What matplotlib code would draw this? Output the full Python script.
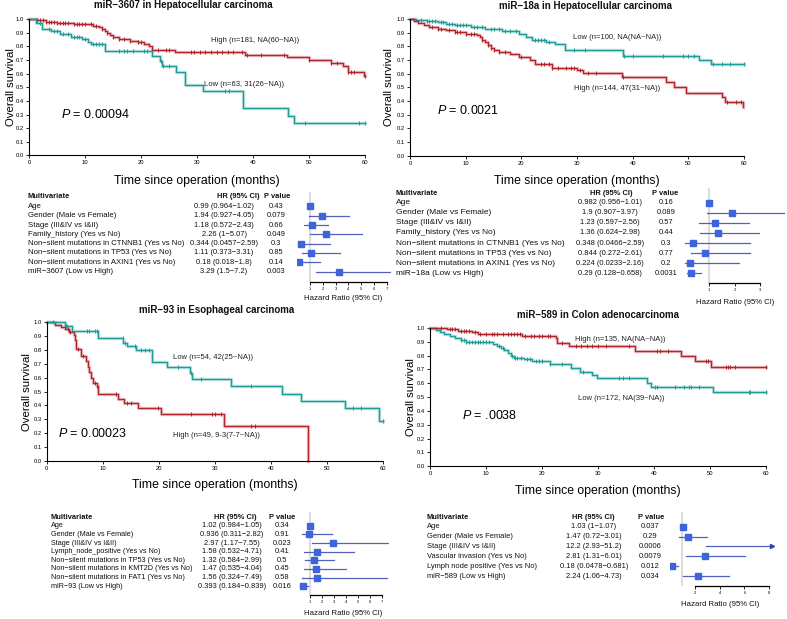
import numpy as np
import matplotlib.pyplot as plt

plt.rcParams['font.family'] = ['Liberation Sans', 'DejaVu Sans']
plt.rcParams['mathtext.fontset'] = 'custom'
plt.rcParams['mathtext.it'] = 'Liberation Sans:italic'
plt.rcParams['mathtext.rm'] = 'Liberation Sans'

W, H = 787, 619
RED = '#B2242B'
TEAL = '#1E9C98'
SQ = '#3D64DB'
CI = '#3445B0'

# ---- KM data ----
# panel A: miR-3607, hepatocellular
a_high_t = [0, 1.5, 3, 5, 8, 11.5, 12.5, 13, 13.5, 14, 14.5, 15, 16, 18, 19.5, 20.5, 21.5, 22, 26, 38.5, 46, 50, 54, 56, 57, 59.8]
a_high_s = [1, .99, .98, .97, .96, .95, .94, .93, .91, .90, .88, .87, .85, .84, .83, .82, .80, .77, .755, .735, .72, .70, .68, .655, .61, .585]
a_high_c = [1.5, 2, 2.5, 3, 3.5, 4, 4.5, 5, 5.5, 6, 6.5, 7, 8, 8.5, 9, 9.5, 10, 11, 12, 13, 14, 15, 16, 17, 18,
            19.5, 20, 23, 24.5, 25, 29, 29.5, 30.5, 31.5, 32.5, 33.5, 34.5, 35.5, 36.5, 38, 39, 41.5, 45.5, 50,
            54, 55, 57, 57.5, 58, 60]
a_low_t = [0, 1.2, 2.3, 4, 5.5, 7.5, 9.5, 10.5, 11, 13.6, 21.9, 23.4, 23.8, 26.2, 27.8, 31, 38.3, 46.2, 47.4]
a_low_s = [1, .97, .93, .91, .89, .87, .85, .83, .815, .765, .73, .69, .655, .61, .515, .47, .35, .29, .235]
a_low_c = [2, 3.5, 4.5, 5, 6, 7, 8, 8.5, 9, 10, 11.5, 12, 12.5, 13, 16, 17, 17.5, 18.5, 20.5, 21, 23.5, 24, 25,
           35, 35.8, 49.2, 59, 60]

# panel B: miR-18a, hepatocellular
b_low_t = [0, 1, 3, 5, 6.5, 8, 11, 13.5, 16.5, 19.5, 20.8, 22, 24.5, 26, 27.8, 38.3, 52, 54]
b_low_s = [1, .99, .985, .975, .965, .955, .94, .925, .91, .89, .87, .85, .835, .82, .775, .73, .70, .67]
b_low_c = [2, 3, 3.5, 4, 4.5, 5.5, 6, 7, 7.5, 8.5, 9, 9.5, 10, 11.5, 12, 13, 14.5, 15, 16, 17, 18, 19, 22.5, 23,
           23.5, 24, 25, 29.5, 31.5, 38.5, 40, 45.5, 49, 50, 51, 54.5, 56, 57.5, 60]
b_high_t = [0, 0.8, 1.5, 2.5, 3.5, 5, 6.5, 8, 10, 12, 12.5, 13, 13.5, 14, 14.5, 15, 16, 18, 19.5, 21.5, 22.5,
            25.5, 30, 31, 38, 45.9, 47.5, 49.6, 56, 56.5, 59.9]
b_high_s = [1, .985, .97, .955, .94, .93, .92, .905, .89, .88, .865, .85, .83, .81, .79, .775, .76, .745, .725,
            .70, .67, .645, .625, .605, .575, .54, .50, .46, .43, .395, .355]
b_high_c = [4, 5, 5.5, 7, 8, 8.5, 9, 10, 11, 11.5, 13, 14, 14.5, 15, 16, 17, 20, 23.5, 24, 25, 25.5, 26.5, 28,
            29, 29.5, 30.5, 32, 33.5, 38.3, 57, 58.5, 59.5]

# panel C: miR-93, esophageal
c_low_t = [0, 3.3, 4.5, 9.2, 13.7, 14.3, 16, 18.75, 21.4, 25.6, 26, 32.9, 42.1, 45.4, 53.3, 59.3]
c_low_s = [1, .975, .94, .89, .855, .83, .80, .715, .675, .635, .59, .54, .485, .43, .38, .285]
c_low_c = [1.2, 3.4, 3.6, 7.2, 7.5, 8.6, 9.0, 13.6, 14.0, 15.8, 16.9, 17.6, 18.3, 23.5, 25.8, 27.5, 36.5,
           54.7, 56.2, 60]
c_high_t = [0, 1.5, 2.5, 3.3, 4.0, 4.8, 5.0, 5.2, 6.2, 7.0, 7.3, 7.6, 7.9, 8.2, 8.9, 9.2, 12.8, 13.8, 16.25,
            20.4, 31.7, 46.7]
c_high_s = [1, .98, .965, .95, .93, .91, .87, .81, .76, .72, .68, .64, .60, .56, .54, .48, .45, .42, .38, .34,
            .25, 0.0]
c_high_c = [3.8, 4.2, 5.5, 6.5, 8.6, 8.9, 12.3, 14.3, 15.0, 19.8, 25.8, 29.5, 30.0, 31.2, 36.5, 37.2]

# panel D: miR-589, colon
d_high_t = [0, 3, 5, 7.5, 8.5, 16.5, 22.5, 22.7, 24.8, 36.6, 44.8, 47.4, 50.1]
d_high_s = [1, .99, .98, .97, .955, .94, .925, .89, .867, .835, .80, .76, .715]
d_high_c = [2, 3.5, 4, 4.5, 5.5, 6, 6.5, 7, 8, 9, 10, 11, 11.5, 12, 13, 14, 14.5, 15, 15.5, 16, 17, 18, 18.5,
            19.5, 20, 21, 21.5, 23.5, 26, 27, 28, 29, 30, 31.5, 35.5, 40.5, 41, 42.5, 49.3, 49.7, 52.8, 53.2,
            53.6, 54.5, 60]
d_low_t = [0, 1, 1.8, 2.5, 3.5, 4.5, 5.5, 6.5, 11.3, 12, 12.6, 13.3, 14, 14.4, 15, 16.8, 18.3, 21.4, 25.2,
           26.7, 28.9, 29.9, 38.7, 39.5, 50.6]
d_low_s = [1, .985, .97, .955, .945, .93, .915, .90, .885, .87, .855, .84, .82, .80, .785, .775, .76, .74, .71,
           .68, .66, .635, .605, .57, .535]
d_low_c = [5.5, 6, 6.5, 7, 7.5, 8, 8.5, 9, 9.5, 10, 10.5, 12.3, 13, 14.6, 15.2, 15.6, 16.2, 17.3, 17.8, 19,
           19.5, 20, 21.5, 23.5, 27.3, 33.7, 34.5, 35.5, 40.2, 40.6, 43.7, 45.3, 46.3, 46.6, 48, 57, 57.2, 60]

# ---- multivariate tables ----
a_labels = ['Age', 'Gender (Male vs Female)', 'Stage (III&IV vs I&II)', 'Family_history (Yes vs No)',
            'Non\u2212silent mutations in CTNNB1 (Yes vs No)', 'Non\u2212silent mutations in TP53 (Yes vs No)',
            'Non\u2212silent mutations in AXIN1 (Yes vs No)', 'miR\u22123607 (Low vs High)']
a_hr = [0.99, 1.94, 1.18, 2.26, 0.344, 1.11, 0.18, 3.29]
a_lo = [0.964, 0.927, 0.572, 1, 0.0457, 0.373, 0.018, 1.5]
a_hi = [1.02, 4.05, 2.43, 5.07, 2.59, 3.31, 1.8, 7.2]
a_p = ['0.43', '0.079', '0.66', '0.049', '0.3', '0.85', '0.14', '0.003']

b_labels = ['Age', 'Gender (Male vs Female)', 'Stage (III&IV vs I&II)', 'Family_history (Yes vs No)',
            'Non\u2212silent mutations in CTNNB1 (Yes vs No)', 'Non\u2212silent mutations in TP53 (Yes vs No)',
            'Non\u2212silent mutations in AXIN1 (Yes vs No)', 'miR\u221218a (Low vs High)']
b_hr = [0.982, 1.9, 1.23, 1.36, 0.348, 0.844, 0.224, 0.29]
b_lo = [0.956, 0.907, 0.597, 0.624, 0.0466, 0.272, 0.0233, 0.128]
b_hi = [1.01, 3.97, 2.56, 2.98, 2.59, 2.61, 2.16, 0.658]
b_p = ['0.16', '0.089', '0.57', '0.44', '0.3', '0.77', '0.2', '0.0031']

c_labels = ['Age', 'Gender (Male vs Female)', 'Stage (III&IV vs I&II)', 'Lymph_node_positive (Yes vs No)',
            'Non\u2212silent mutations in TP53 (Yes vs No)', 'Non\u2212silent mutations in KMT2D (Yes vs No)',
            'Non\u2212silent mutations in FAT1 (Yes vs No)', 'miR\u221293 (Low vs High)']
c_hr = [1.02, 0.936, 2.97, 1.58, 1.32, 1.47, 1.56, 0.393]
c_lo = [0.984, 0.311, 1.17, 0.532, 0.584, 0.535, 0.324, 0.184]
c_hi = [1.05, 2.82, 7.55, 4.71, 2.99, 4.04, 7.49, 0.839]
c_p = ['0.34', '0.91', '0.023', '0.41', '0.5', '0.45', '0.58', '0.016']

d_labels = ['Age', 'Gender (Male vs Female)', 'Stage (III&IV vs I&II)', 'Vascular invasion (Yes vs No)',
            'Lymph node positive (Yes vs No)', 'miR\u2212589 (Low vs High)']
d_hr = [1.03, 1.47, 12.2, 2.81, 0.18, 2.24]
d_lo = [1, 0.72, 2.93, 1.31, 0.0478, 1.06]
d_hi = [1.07, 3.01, 51.2, 6.01, 0.681, 4.73]
d_p = ['0.037', '0.29', '0.0006', '0.0079', '0.012', '0.034']

fig = plt.figure(figsize=(W / 100, H / 100), dpi=100)


def px_axes(l, t, r, b):
    return fig.add_axes([l / W, 1 - b / H, (r - l) / W, (b - t) / H])


def ptext(x, y, s, **kw):
    kw.setdefault('va', 'center')
    kw.setdefault('fontsize', 5.4)
    kw.setdefault('color', '#111111')
    fig.text(x / W, 1 - y / H, s, **kw)


def km_curve(ax, t, s, cens, color):
    t = list(t)
    s = list(s)
    end = max(t[-1], max(cens))
    tt = t + [end]
    ss = s + [s[-1]]
    for lw, al in [(2.4, 0.3), (0.9, 1.0)]:
        ax.step(tt, ss, where='post', color=color, lw=lw, alpha=al, clip_on=False)
    idx = np.searchsorted(t, cens, side='right') - 1
    ax.plot(cens, np.array(s)[idx], ls='none', marker='|', ms=3.5, mew=0.7, color=color, clip_on=False)


def km_axes(ax, ylab_x):
    ax.set_xlim(0, 60)
    ax.set_ylim(0, 1)
    ax.set_xticks(range(0, 61, 10))
    ax.set_yticks(np.arange(0, 1.01, 0.1))
    ax.set_yticklabels([f'{v:.1f}' for v in np.arange(0, 1.01, 0.1)])
    ax.tick_params(labelsize=4.2, length=2, width=0.6, pad=1.5)
    for sp in ['top', 'right']:
        ax.spines[sp].set_visible(False)
    for sp in ['left', 'bottom']:
        ax.spines[sp].set_linewidth(0.8)
    ax.set_ylabel('Overall survival', fontsize=8.2)
    ax.yaxis.set_label_coords(ylab_x, 0.5)
    ax.set_xlabel('Time since operation (months)', fontsize=8.8, va='top')


def forest(ax, hr, lo, hi, xmax, ylim, bounds, ticks):
    ax.set_xlim(0, xmax)
    ax.set_ylim(*ylim)
    ax.axvline(1, color='#dddddd', lw=1.5, zorder=0)
    for i in range(len(hr)):
        right = min(hi[i], xmax)
        ax.plot([lo[i], right], [i, i], color=CI, lw=0.9, alpha=0.85)
        if hi[i] > xmax:
            ax.plot(xmax, i, marker='>', ms=3, color=CI, clip_on=False)
        if hr[i] <= xmax:
            ax.plot(hr[i], i, marker='s', ms=3.8, color=SQ, mec=SQ)
    for sp in ['top', 'right', 'left']:
        ax.spines[sp].set_visible(False)
    ax.spines['bottom'].set_bounds(*bounds)
    ax.spines['bottom'].set_linewidth(0.9)
    ax.set_yticks([])
    ax.set_xticks(ticks)
    ax.tick_params(axis='x', labelsize=3, length=2, width=0.6, pad=1.5)
    ax.patch.set_alpha(0)


def table(xl, xh, xhh, xp, xph, yh, y0, dy, labels, hr, lo, hi, pv, lsize):
    ptext(xl, yh, 'Multivariate', fontweight='bold')
    ptext(xhh, yh, 'HR (95% CI)', fontweight='bold', ha='center')
    ptext(xph, yh, 'P value', fontweight='bold', ha='center')
    for i in range(len(labels)):
        y = y0 + i * dy
        ptext(xl, y, labels[i], fontsize=lsize)
        ptext(xh, y, f'{hr[i]:g} ({lo[i]:g}\u2212{hi[i]:g})', ha='center')
        ptext(xp, y, pv[i], ha='center')


# ---- panel A ----
ax = px_axes(29, 19, 365, 155.5)
km_curve(ax, a_high_t, a_high_s, a_high_c, RED)
km_curve(ax, a_low_t, a_low_s, a_low_c, TEAL)
km_axes(ax, -0.039)
ax.xaxis.set_label_coords(0.5, -0.14)
ax.text(32.5, 0.84, 'High (n=181, NA(60~NA))', fontsize=5.5, va='center', color='#222222')
ax.text(31.2, 0.52, 'Low (n=63, 31(26~NA))', fontsize=5.5, va='center', color='#222222')
ax.text(5.8, 0.30, '$P$ = 0.00094', fontsize=9, va='center')
ptext(183, 5.5, 'miR\u22123607 in Hepatocellular carcinoma', fontweight='bold', ha='center', fontsize=7)
table(28, 224, 238, 276, 277, 197, 206.5, 9.29, a_labels, a_hr, a_lo, a_hi, a_p, 5.6)
fa = px_axes(297, 192, 390.8, 282)
forest(fa, a_hr, a_lo, a_hi, 7.3, (8.13, -1.56), (1, 7), range(1, 8))
ptext(343, 299, 'Hazard Ratio (95% CI)', ha='center', fontsize=5.6)

# ---- panel B ----
ax = px_axes(410, 19, 744, 155.7)
km_curve(ax, b_low_t, b_low_s, b_low_c, TEAL)
km_curve(ax, b_high_t, b_high_s, b_high_c, RED)
km_axes(ax, -0.048)
ax.xaxis.set_label_coords(0.5, -0.14)
ax.text(29.2, 0.866, 'Low (n=100, NA(NA~NA))', fontsize=5.5, va='center', color='#222222')
ax.text(29.4, 0.49, 'High (n=144, 47(31~NA))', fontsize=5.5, va='center', color='#222222')
ax.text(4.8, 0.33, '$P$ = 0.0021', fontsize=9, va='center')
ptext(585.7, 6, 'miR\u221218a in Hepatocellular carcinoma', fontweight='bold', ha='center', fontsize=7)
table(396, 610.3, 611.7, 666, 664.7, 193.3, 202.7, 10.09, b_labels, b_hr, b_lo, b_hi, b_p, 6.0)
fb = px_axes(684, 188.3, 786.5, 283.3)
forest(fb, b_hr, b_lo, b_hi, 4.05, (7.99, -1.43), (1, 3), [1, 2, 3])
ptext(735, 303, 'Hazard Ratio (95% CI)', ha='center', fontsize=5.6)

# ---- panel C ----
ax = px_axes(46.7, 322.5, 382.7, 460.7)
km_curve(ax, c_high_t, c_high_s, c_high_c, RED)
km_curve(ax, c_low_t, c_low_s, c_low_c, TEAL)
km_axes(ax, -0.043)
ax.xaxis.set_label_coords(0.5, -0.135)
ax.text(22.6, 0.747, 'Low (n=54, 42(25~NA))', fontsize=5.5, va='center', color='#222222')
ax.text(22.6, 0.18, 'High (n=49, 9-3(7-7~NA))', fontsize=5.5, va='center', color='#222222')
ax.text(2.1, 0.20, '$P$ = 0.00023', fontsize=9, va='center')
ptext(216.7, 310, 'miR\u221293 in Esophageal carcinoma', fontweight='bold', ha='center', fontsize=7)
table(50.7, 232, 235, 282, 282.5, 517.3, 525.7, 8.66, c_labels, c_hr, c_lo, c_hi, c_p, 5.2)
fc = px_axes(298, 511.7, 388.7, 595)
forest(fc, c_hr, c_lo, c_hi, 7.6, (7.99, -1.62), (1, 7), range(1, 8))
ptext(343.3, 613.3, 'Hazard Ratio (95% CI)', ha='center', fontsize=5.6)

# ---- panel D ----
ax = px_axes(430, 328, 766, 466.3)
km_curve(ax, d_low_t, d_low_s, d_low_c, TEAL)
km_curve(ax, d_high_t, d_high_s, d_high_c, RED)
km_axes(ax, -0.042)
ax.xaxis.set_label_coords(0.5, -0.135)
ax.text(25.9, 0.917, 'High (n=135, NA(NA~NA))', fontsize=5.5, va='center', color='#222222')
ax.text(26.4, 0.49, 'Low (n=172, NA(39~NA))', fontsize=5.5, va='center', color='#222222')
ax.text(5.65, 0.37, '$P$ = .0038', fontsize=9, va='center')
ptext(598, 315, 'miR\u2212589 in Colon adenocarcinoma', fontweight='bold', ha='center', fontsize=7)
table(426.7, 593.8, 593.3, 650, 650.7, 517.3, 526.7, 9.86, d_labels, d_hr, d_lo, d_hi, d_p, 5.4)
fd = px_axes(670, 511.7, 771.7, 585.7)
forest(fd, d_hr, d_lo, d_hi, 8.2, (5.98, -1.52), (2, 8), [2, 4, 6, 8])
ptext(720, 604.3, 'Hazard Ratio (95% CI)', ha='center', fontsize=5.6)

fig.savefig('out.png', dpi=100)
